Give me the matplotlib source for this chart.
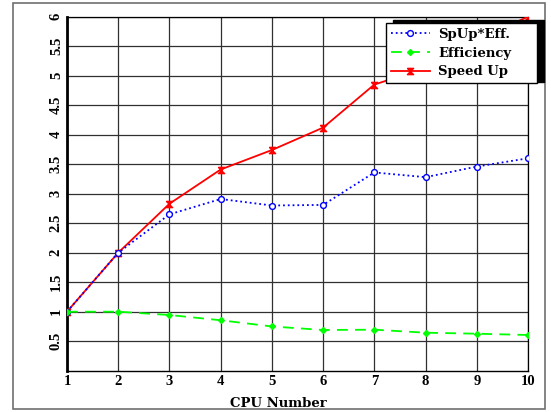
import matplotlib
matplotlib.use("Agg")
import matplotlib.pyplot as plt
from matplotlib.patches import Rectangle

# veriler
cpu = [1, 2, 3, 4, 5, 6, 7, 8, 9, 10]
speed_up = [1.0, 2.0, 2.83, 3.41, 3.74, 4.12, 4.85, 5.13, 5.6, 6.0]
efficiency = [1.0, 1.0, 0.944, 0.855, 0.75, 0.69, 0.695, 0.644, 0.627, 0.605]
spup_eff = [1.0, 2.0, 2.65, 2.91, 2.80, 2.81, 3.36, 3.28, 3.46, 3.6]
y_ticks = [0.5, 1, 1.5, 2, 2.5, 3, 3.5, 4, 4.5, 5, 5.5, 6]
y_labels = ["0.5", "1", "1.5", "2", "2.5", "3", "3.5", "4", "4.5", "5", "5.5", "6"]

plt.rcParams['font.family'] = ['Liberation Serif', 'DejaVu Serif']
plt.rcParams['font.weight'] = 'bold'

fig = plt.figure(figsize=(5.51, 4.12), dpi=100)
ax = fig.add_axes([67/551, 1-370.7/412, (528-67)/551, (370.7-16.7)/412])

# dis cerceve
fig.patches.append(Rectangle((13/551, 1-409/412), (545-13)/551, (409-3)/412,
                             transform=fig.transFigure, fill=False,
                             edgecolor='#707070', lw=1.2))

hourglass = [(-1, 1), (1, 1), (-1, -1), (1, -1), (-1, 1)]

l1, = ax.plot(cpu, spup_eff, color='blue', ls=':', lw=1.3, marker='o', ms=4.2,
              mfc='white', mec='blue', mew=1.0, label='SpUp*Eff.', zorder=4)
l2, = ax.plot(cpu, efficiency, color='#00ff00', ls=(0, (6, 4)), lw=1.3, marker='D', ms=3,
              mfc='#00ff00', mec='#00ff00', label='Efficiency', zorder=4)
l3, = ax.plot(cpu, speed_up, color='red', ls='-', lw=1.3, marker=hourglass, ms=4.5,
              mfc='red', mec='red', label='Speed Up', zorder=3)

ax.set_xlim(1, 10)
ax.set_ylim(0, 6)
ax.set_xticks(cpu)
ax.set_yticks(y_ticks)
ax.set_yticklabels(y_labels, rotation=90, va='center')
ax.tick_params(length=0, labelsize=10.5, pad=3)

ax.grid(True, color='#303030', lw=0.9)
ax.set_axisbelow(True)
ax.spines['left'].set_linewidth(2)
ax.spines['bottom'].set_linewidth(1)
ax.spines['top'].set_linewidth(0.9)
ax.spines['right'].set_linewidth(0.9)

fig.text(278/551, 1-403.5/412, 'CPU Number', ha='center', va='center',
         fontsize=9.5, fontweight='bold', family='DejaVu Serif')

# legend golgesi
shadow = Rectangle((393/551, 1-82/412), (544-393)/551, (82-20)/412,
                   transform=fig.transFigure, facecolor='black',
                   edgecolor='black', zorder=5)
fig.patches.append(shadow)
leg = fig.legend(handles=[l1, l2, l3], loc='upper left',
                 bbox_to_anchor=(386/551, 1-83/412, (537-386)/551, (83-23)/412),
                 bbox_transform=fig.transFigure, mode='expand', borderaxespad=0,
                 fancybox=False, framealpha=1, edgecolor='black', numpoints=1,
                 handlelength=3.0, prop={'family': 'DejaVu Serif', 'weight': 'bold', 'size': 9.5},
                 labelspacing=0.45, borderpad=0.35, handletextpad=0.6)
leg.get_frame().set_linewidth(1)
leg.set_zorder(10)

fig.savefig('out.png', dpi=100)
